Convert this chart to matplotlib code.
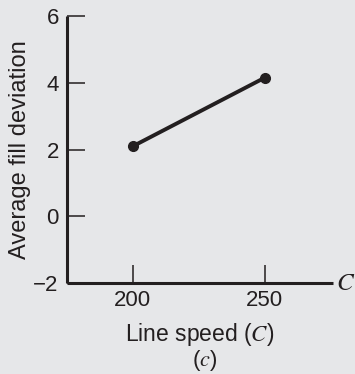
import matplotlib.pyplot as plt

line_speed = [200, 250]
avg_fill_dev = [2.1, 4.15]
x_ticks = [200, 250]
y_ticks = [-2, 0, 2, 4, 6]

bg = '#e6e7e9'
ink = '#231f20'

plt.rcParams['font.family'] = ['Liberation Sans', 'DejaVu Sans']
plt.rcParams['mathtext.fontset'] = 'stix'

fig = plt.figure(figsize=(3.55, 3.74), dpi=100, facecolor=bg)
ax = fig.add_axes([0.189, 0.2433, 0.749, 0.7137], facecolor=bg)

ax.plot(line_speed, avg_fill_dev, color=ink, lw=2.8, marker='o',
        markersize=7, solid_capstyle='round')

ax.set_xlim(175, 276)
ax.set_ylim(-2, 6)
ax.set_xticks(x_ticks)
ax.set_yticks(y_ticks)
ax.set_yticklabels(['\u22122', '0', '2', '4', '6'])

for side in ['top', 'right']:
    ax.spines[side].set_visible(False)
for side in ['left', 'bottom']:
    ax.spines[side].set_linewidth(2.2)
    ax.spines[side].set_color(ink)
    ax.spines[side].set_capstyle('butt')

ax.tick_params(direction='in', length=13, width=1.1, color=ink,
               labelsize=16, labelcolor=ink)
ax.tick_params(axis='x', pad=5)
ax.tick_params(axis='y', pad=6)

ax.set_ylabel('Average fill deviation', fontsize=17, color=ink, labelpad=2)
ax.set_xlabel('Line speed ($C$)', fontsize=16.5, color=ink, labelpad=7)

# variable name at the end of the x axis and the panel letter underneath
ax.text(1.01, 0, '$C$', transform=ax.transAxes, fontsize=18, color=ink,
        ha='left', va='center')
fig.text(0.577, 0.003, '($c$)', fontsize=16, color=ink, ha='center',
         va='bottom')

fig.savefig('out.png', dpi=100, facecolor=bg)
